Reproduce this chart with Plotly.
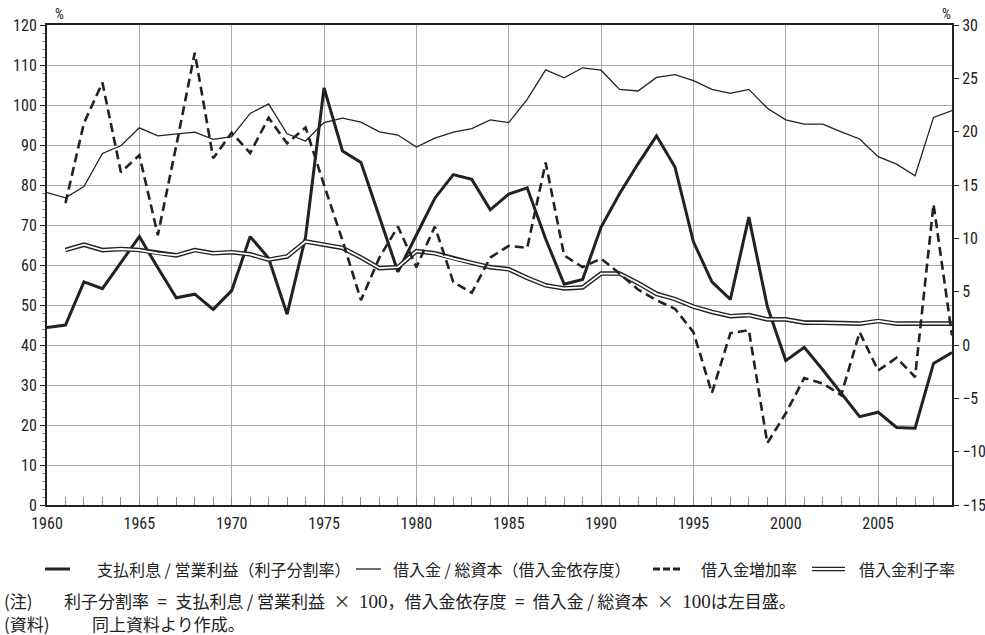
import plotly.graph_objects as go

# ---------------- data ----------------
years = list(range(1960, 2010))

# 支払利息 / 営業利益（利子分割率） left axis
interest_to_profit = [44.4, 45.0, 55.8, 54.1, 60.6, 67.1, 59.3, 51.8, 52.7, 48.9,
                      53.6, 67.1, 61.7, 47.7, 67.0, 104.3, 88.5, 85.6, 72.0, 58.3,
                      67.5, 76.7, 82.6, 81.4, 73.8, 77.7, 79.3, 66.5, 55.2, 56.4,
                      69.5, 77.8, 85.3, 92.3, 84.5, 65.8, 55.8, 51.4, 72.0, 49.6,
                      36.1, 39.4, 33.8, 27.9, 22.1, 23.2, 19.4, 19.2, 35.4, 38.1]

# 借入金 / 総資本（借入金依存度） left axis
debt_ratio = [78.1, 76.8, 79.6, 87.9, 89.8, 94.3, 92.3, 92.7, 93.2, 91.4,
              92.1, 97.9, 100.3, 92.8, 91.0, 95.6, 96.7, 95.7, 93.3, 92.5,
              89.5, 91.7, 93.2, 94.1, 96.3, 95.6, 101.4, 108.8, 106.8, 109.3,
              108.7, 103.9, 103.5, 106.9, 107.6, 106.1, 103.9, 102.9, 103.9, 99.2,
              96.3, 95.2, 95.2, 93.3, 91.5, 87.1, 85.2, 82.3, 96.9, 98.6]

# 借入金増加率 right axis (from 1961)
borrowing_growth = [None, 13.3, 20.8, 24.6, 16.2, 17.8, 10.3, 18.7, 27.4, 17.5,
                    19.9, 18.0, 21.3, 18.9, 20.4, 15.0, 9.8, 4.2, 8.2, 11.1,
                    7.3, 11.1, 5.9, 4.9, 8.2, 9.3, 9.1, 17.1, 8.4, 7.3,
                    8.1, 6.7, 5.2, 4.2, 3.4, 1.2, -4.5, 1.1, 1.4, -9.2,
                    -6.4, -3.1, -3.6, -4.7, 1.2, -2.4, -1.2, -3.0, 13.2, 0.9]

# 借入金利子率 right axis (from 1961)
interest_rate = [None, 8.9, 9.4, 8.9, 9.0, 8.9, 8.6, 8.4, 8.9, 8.6,
                 8.7, 8.5, 8.0, 8.3, 9.7, 9.4, 9.1, 8.2, 7.2, 7.3,
                 8.8, 8.6, 8.1, 7.7, 7.3, 7.1, 6.3, 5.6, 5.3, 5.4,
                 6.7, 6.7, 5.8, 4.8, 4.3, 3.6, 3.1, 2.7, 2.8, 2.4,
                 2.4, 2.1, 2.1, 2.05, 2.0, 2.25, 2.0, 2.0, 2.0, 2.0]

legend_labels = ["支払利息 / 営業利益（利子分割率）", "借入金 / 総資本（借入金依存度）",
                 "借入金増加率", "借入金利子率"]

# ---------------- layout geometry ----------------
W, H = 985, 635
L, R, T, B = 47, 33, 25, 130
PW, PH = W - L - R, H - T - B

def xp(px):
    return (px - L) / PW

def yp(py):
    return (H - B - py) / PH

INK = "#222222"
NUM_FONT = "Roboto Condensed, Liberation Sans Narrow, DejaVu Sans Condensed, Roboto, sans-serif"
JP_FONT = "Noto Sans CJK JP, Noto Sans CJK SC, sans-serif"

fig = go.Figure()

# double line (借入金利子率)
fig.add_trace(go.Scatter(x=years, y=interest_rate, yaxis="y2", mode="lines",
                         line=dict(color=INK, width=4.6), showlegend=False,
                         hoverinfo="skip"))
fig.add_trace(go.Scatter(x=years, y=interest_rate, yaxis="y2", mode="lines",
                         line=dict(color="white", width=1.8), showlegend=False,
                         name=legend_labels[3]))
# thin line
fig.add_trace(go.Scatter(x=years, y=debt_ratio, mode="lines",
                         line=dict(color=INK, width=1.3), showlegend=False,
                         name=legend_labels[1]))
# dashed
fig.add_trace(go.Scatter(x=years, y=borrowing_growth, yaxis="y2", mode="lines",
                         line=dict(color=INK, width=2.6, dash="9px,5px"),
                         showlegend=False, name=legend_labels[2]))
# thick
fig.add_trace(go.Scatter(x=years, y=interest_to_profit, mode="lines",
                         line=dict(color=INK, width=3), showlegend=False,
                         name=legend_labels[0]))

shapes = []
annotations = []

# manual legend
ly = 569
def hline(x0, x1, y, color, width, dash="solid"):
    shapes.append(dict(type="line", xref="paper", yref="paper",
                       x0=xp(x0), x1=xp(x1), y0=yp(y), y1=yp(y),
                       line=dict(color=color, width=width, dash=dash)))

hline(45, 70, ly, INK, 3)
hline(356, 381, ly, INK, 1.3)
hline(653, 681, ly, INK, 3, "7px,3px")
hline(812, 845, ly, INK, 4.6)
hline(812, 845, ly, "white", 1.8)

for x0, txt in zip([95, 391, 699, 857], legend_labels):
    annotations.append(dict(xref="paper", yref="paper", x=xp(x0), y=yp(ly),
                            xanchor="left", yanchor="middle", showarrow=False,
                            text=txt, font=dict(family=JP_FONT, size=16, color=INK)))

# notes
serif = '<span style="font-family:Liberation Serif, DejaVu Serif, serif;font-size:19px">100</span>'
sp = "\u2002"
th = "\u2009"
note1 = ("利子分割率" + sp + "=" + sp + "支払利息" + th + "/" + th + "営業利益" + sp + "×" + sp + serif
         + "，借入金依存度" + sp + "=" + sp + "借入金" + th + "/" + th + "総資本" + sp + "×" + sp
         + serif + "は左目盛。")
annotations += [
    dict(xref="paper", yref="paper", x=xp(2), y=yp(600), xanchor="left", yanchor="middle",
         showarrow=False, text="(注)", font=dict(family=JP_FONT, size=17, color=INK)),
    dict(xref="paper", yref="paper", x=xp(62), y=yp(600), xanchor="left", yanchor="middle",
         showarrow=False, text=note1, font=dict(family=JP_FONT, size=17, color=INK)),
    dict(xref="paper", yref="paper", x=xp(2), y=yp(623), xanchor="left", yanchor="middle",
         showarrow=False, text="(資料)", font=dict(family=JP_FONT, size=17, color=INK)),
    dict(xref="paper", yref="paper", x=xp(90), y=yp(623), xanchor="left", yanchor="middle",
         showarrow=False, text="同上資料より作成。", font=dict(family=JP_FONT, size=17, color=INK)),
    dict(xref="paper", yref="paper", x=xp(59), y=yp(14), xanchor="center", yanchor="middle",
         showarrow=False, text="%", font=dict(family=NUM_FONT, size=14, color=INK)),
    dict(xref="paper", yref="paper", x=xp(946), y=yp(14), xanchor="center", yanchor="middle",
         showarrow=False, text="%", font=dict(family=NUM_FONT, size=14, color=INK)),
]

tickfont = dict(family=NUM_FONT, size=16, color=INK)

fig.update_layout(
    width=W, height=H,
    margin=dict(l=L, r=R, t=T, b=B, pad=0, autoexpand=False),
    paper_bgcolor="white", plot_bgcolor="white",
    showlegend=False,
    shapes=shapes, annotations=annotations,
    xaxis=dict(range=[1960, 2009], dtick=5, tick0=1960, showgrid=True, automargin=False,
               gridcolor="#aaaaaa", gridwidth=1, zeroline=False,
               showline=True, linecolor=INK, linewidth=2, mirror=True,
               ticks="inside", ticklen=8, tickcolor="#888888", tickwidth=1,
               ticklabelstandoff=3,
               minor=dict(dtick=1, ticks="inside", ticklen=8, tickcolor="#888888",
                          tickwidth=1, showgrid=False),
               tickfont=tickfont),
    yaxis=dict(range=[0, 120], dtick=10, showgrid=True, gridcolor="#aaaaaa", automargin=False,
               gridwidth=1, zeroline=False, showline=True, linecolor=INK,
               linewidth=2, ticks="outside", ticklen=5, tickcolor=INK, tickwidth=1,
               minor=dict(dtick=2, ticks="outside", ticklen=3, tickcolor="#888888",
                          tickwidth=1, showgrid=False),
               tickfont=tickfont),
    yaxis2=dict(range=[-15, 30], dtick=5, overlaying="y", side="right", automargin=False,
                showgrid=False, zeroline=False, showline=True, linecolor=INK,
                linewidth=2, ticks="outside", ticklen=5, tickcolor=INK, tickwidth=1,
                tickfont=tickfont),
)

fig.write_html("out.html", config={"displayModeBar": False},
               post_script="document.body.style.margin='0';document.body.style.padding='0';")
